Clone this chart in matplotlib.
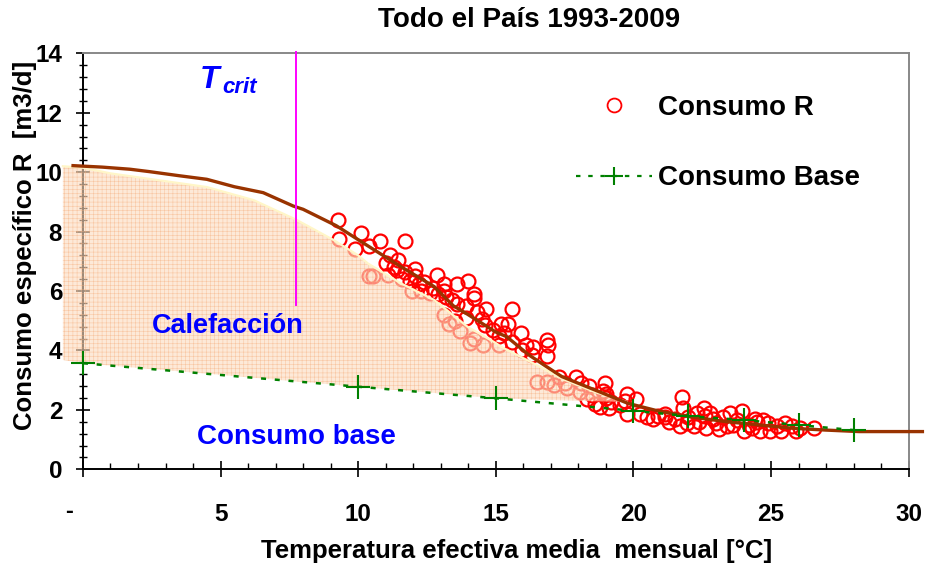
import matplotlib.pyplot as plt
from matplotlib.lines import Line2D
from matplotlib.ticker import MultipleLocator

plt.rcParams['font.family'] = ['Liberation Sans', 'DejaVu Sans']
plt.rcParams['font.weight'] = 'bold'
plt.rcParams['hatch.linewidth'] = 0.4

# monthly points (temperature, specific consumption)
temp_r = [9.25, 9.3, 10.1, 9.9, 10.4, 10.8, 11.7, 11.15, 11.45, 11.0, 10.4, 10.55, 11.1, 12.05, 11.7,
          12.05, 12.4, 12.85, 13.1, 11.95, 12.7, 13.2, 11.3, 11.6, 12.3, 12.6, 12.9, 12.2, 11.9, 11.4,
          13.6, 14.0, 14.2, 14.2, 14.65, 15.6, 13.1, 13.6, 13.1, 13.9, 14.5, 14.6, 15.2, 15.45, 15.9,
          15.1, 15.6, 14.05, 14.55, 13.7, 16.85, 16.9, 16.35, 15.95, 16.3, 16.85, 15.1, 13.4, 13.9, 14.3,
          13.5, 14.9, 15.3, 16.1, 13.3, 14.2,
          16.5, 16.85, 17.1, 17.3, 17.9, 18.1, 18.95, 18.9, 19.0, 17.6, 18.05, 18.5, 19.0, 18.8, 19.1,
          19.75, 20.1, 19.7, 19.75, 20.25, 20.5, 20.7, 21.15, 17.5, 18.4, 19.2, 19.5, 18.3, 18.6,
          21.75, 21.8, 22.55, 23.95, 21.15, 21.5, 21.95, 21.7, 22.4, 22.65, 23.0, 23.25, 23.4, 23.75,
          24.2, 24.0, 24.5, 24.7, 24.6, 24.95, 25.35, 25.5, 25.75, 26.05, 26.55, 22.8, 22.3, 22.2, 23.5,
          22.0, 22.9, 23.6, 24.3, 24.9, 25.2, 25.9, 21.3, 20.9, 23.1, 24.4, 22.6]
cons_r = [8.4, 7.75, 7.95, 7.4, 7.5, 7.7, 7.7, 7.2, 7.05, 6.95, 6.5, 6.5, 6.55, 6.75, 6.65,
          6.5, 6.3, 6.55, 6.25, 6.0, 6.1, 5.8, 6.8, 6.4, 6.0, 5.95, 5.9, 6.25, 6.35, 6.7,
          6.25, 6.35, 5.9, 5.75, 5.4, 5.4, 6.0, 5.55, 5.2, 5.1, 5.05, 4.85, 4.9, 4.9, 4.6,
          4.5, 4.3, 4.25, 4.2, 4.65, 4.35, 4.2, 4.1, 4.0, 3.85, 3.8, 4.2, 5.7, 5.5, 5.3,
          5.0, 4.7, 4.6, 4.2, 4.9, 4.4,
          2.95, 2.95, 2.85, 3.1, 3.1, 2.9, 2.9, 2.65, 2.55, 2.75, 2.6, 2.5, 2.4, 2.1, 2.05,
          2.55, 2.35, 2.3, 1.85, 1.85, 1.75, 1.7, 1.85, 2.9, 2.8, 2.25, 2.15, 2.35, 2.2,
          2.45, 2.05, 2.05, 1.95, 1.75, 1.7, 1.55, 1.45, 1.6, 1.4, 1.55, 1.75, 1.45, 1.65,
          1.5, 1.3, 1.6, 1.65, 1.3, 1.3, 1.3, 1.55, 1.45, 1.4, 1.4, 1.9, 1.9, 1.45, 1.9,
          1.75, 1.7, 1.5, 1.4, 1.55, 1.45, 1.3, 1.6, 1.8, 1.35, 1.7, 1.8]

# base consumption
temp_base = [0, 10, 15, 20, 22, 24, 26, 28]
cons_base = [3.57, 2.78, 2.39, 1.97, 1.79, 1.66, 1.49, 1.32]

# fitted curve
temp_fit = [-0.36, 0.7, 1.7, 2.4, 3.5, 4.5, 5.5, 6.55, 7.64, 8.0, 9.2, 10.3, 11.55, 12.76, 13.46,
            13.97, 15.0, 15.4, 16.2, 16.85, 17.4, 18.6, 19.8, 21.0, 22.2, 23.4, 24.6, 25.8, 27.0, 28.2, 30.5]
cons_fit = [10.22, 10.17, 10.1, 10.02, 9.88, 9.76, 9.51, 9.31, 8.86, 8.75, 8.2, 7.55, 6.82, 6.15, 5.5,
            5.22, 4.62, 4.46, 3.85, 3.45, 3.12, 2.67, 2.22, 1.94, 1.75, 1.6, 1.49, 1.38, 1.32, 1.27, 1.27]

# heating area (Calefaccion)
temp_heat = [-0.73, 0, 1.0, 4.5, 6.2, 7.75, 9.1, 10.0, 10.35, 11.55, 12.76, 13.97, 15.0, 15.18,
             16.4, 17.4, 18.6, 19.75]
heat_top = [10.2, 10.15, 9.96, 9.5, 9.06, 8.4, 7.72, 7.2, 6.93, 6.26, 5.7, 4.8, 4.25, 4.13,
            3.55, 3.05, 2.6, 2.27]
heat_bottom = [3.68, 3.57, 3.49, 3.22, 3.08, 2.96, 2.85, 2.78, 2.75, 2.66, 2.57, 2.47, 2.39, 2.39,
               2.35, 2.32, 2.29, 2.27]

t_crit = 7.75

fig = plt.figure(figsize=(9.27, 5.69), dpi=100)
ax = fig.add_axes([0.0895, 0.1752, 0.8907, 0.7311])

# scatter first, the heating area goes over it (faded circles)
ax.plot(temp_r, cons_r, ls='none', marker='o', ms=10, mfc='none', mec='red', mew=1.6, zorder=2)
ax.fill_between(temp_heat, heat_bottom, heat_top, facecolor='#FCDCC0', edgecolor='#F6B080',
                hatch='++++', linewidth=0, alpha=0.62, zorder=3, clip_on=False)
ax.plot(temp_heat, heat_top, color='#FFF6C8', lw=1.6, zorder=3, clip_on=False)
ax.plot(temp_fit, cons_fit, color='#993300', lw=2.4, zorder=4, clip_on=False)
ax.plot(temp_base, cons_base, color='#008000', lw=1.8, ls=(0, (2, 3.5)), marker='+',
        ms=17, mew=1.5, zorder=5, clip_on=False)

# T crit
ax.plot([t_crit, t_crit], [5.53, 14.05], color='#FF00FF', lw=1.4, zorder=5, clip_on=False)
ax.text(4.25, 12.83, 'T', color='blue', fontsize=23, style='italic', fontweight='bold')
ax.text(5.05, 12.67, 'crit', color='blue', fontsize=16, style='italic', fontweight='bold')
ax.text(5.27, 4.82, 'Calefacción', color='blue', fontsize=19.5, ha='center', va='center')
ax.text(7.76, 1.10, 'Consumo base', color='blue', fontsize=20, ha='center', va='center')

ax.set_xlim(0, 30)
ax.set_ylim(0, 14)
ax.xaxis.set_major_locator(MultipleLocator(5))
ax.xaxis.set_minor_locator(MultipleLocator(1))
ax.yaxis.set_major_locator(MultipleLocator(2))
ax.yaxis.set_minor_locator(MultipleLocator(0.4))
ax.set_xticks([0, 5, 10, 15, 20, 25, 30], ['', '5', '10', '15', '20', '25', '30'])
ax.annotate('-', xy=(0, 0), xycoords=('data', 'axes fraction'), xytext=(-14, -42),
            textcoords='offset pixels', ha='center', va='center', fontsize=17)

ax.tick_params(axis='y', which='major', direction='inout', length=10, width=1.2, pad=10, labelsize=17.5)
ax.tick_params(axis='y', which='minor', direction='inout', length=6, width=1)
ax.tick_params(axis='x', which='major', direction='inout', length=12, width=1.2, pad=18, labelsize=17.5)
ax.tick_params(axis='x', which='minor', direction='in', length=4, width=1)

for side in ['left', 'bottom']:
    ax.spines[side].set_linewidth(1.4)
for side in ['top', 'right']:
    ax.spines[side].set_color('#888888')
    ax.spines[side].set_linewidth(1.4)

fig.text(529 / 927, 1 - 20 / 569, 'Todo el País 1993-2009', fontsize=20, ha='center', va='center')
fig.text(517 / 927, 1 - 551 / 569, 'Temperatura efectiva media  mensual [°C]', fontsize=18.5,
         ha='center', va='center')
fig.text(25 / 927, 1 - 245 / 569, 'Consumo específico R  [m3/d]', fontsize=18.5, rotation=90,
         ha='center', va='center')

h_r = Line2D([], [], ls='none', marker='o', ms=10, mfc='none', mec='red', mew=1.3)
h_base = Line2D([], [], color='#008000', lw=1.6, ls=(0, (2, 3.5)), marker='+', ms=13, mew=1.5)
ax.legend([h_r, h_base], ['Consumo R', 'Consumo Base'], loc='upper left',
          bbox_to_anchor=(575.7 / 927, 1 - 95 / 569), bbox_transform=fig.transFigure,
          frameon=False, fontsize=20, handlelength=2.73, handletextpad=0.25,
          labelspacing=1.6, borderpad=0, borderaxespad=0, numpoints=1)

fig.savefig('out.png', dpi=100)
